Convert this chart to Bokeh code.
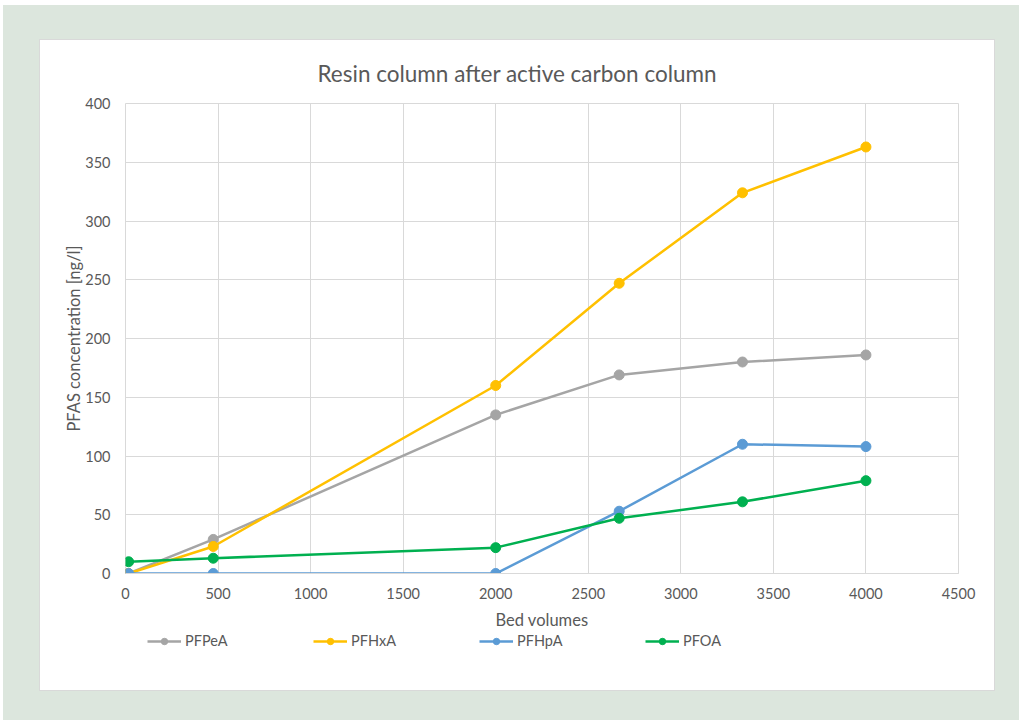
from bokeh.plotting import figure
from bokeh.models import Legend, LegendItem, Range1d, FixedTicker
from bokeh.layouts import column
from bokeh.embed import file_html
from bokeh.resources import INLINE

# ---- data ----
bed_volumes = [17, 474, 2000, 2667, 3333, 4000]
pfpea = [0, 29, 135, 169, 180, 186]
pfhxa = [0, 23, 160, 247, 324, 363]
pfhpa = [0, 0, 0, 53, 110, 108]
pfoa = [10, 13, 22, 47, 61, 79]
series_names = ["PFPeA", "PFHxA", "PFHpA", "PFOA"]
x_ticks = [0, 500, 1000, 1500, 2000, 2500, 3000, 3500, 4000, 4500]
y_ticks = [0, 50, 100, 150, 200, 250, 300, 350, 400]

colors = ["#a5a5a5", "#ffc000", "#5b9bd5", "#00b050"]
FONT = "Lato"
TXT = "#595959"
GRID = "#d9d9d9"

p = figure(width=954, height=592, output_backend="svg", toolbar_location=None,
           x_range=Range1d(0, 4500), y_range=Range1d(0, 400),
           min_border_left=85, min_border_right=36, min_border_top=63,
           min_border_bottom=57, background_fill_color="white",
           border_fill_color="white")

p.title.text = "Resin column after active carbon column"
p.title.align = "left"
p.title.offset = 192
p.title.text_font = FONT
p.title.text_font_size = "22.5px"
p.title.text_font_style = "normal"
p.title.text_color = TXT
p.title.standoff = 34

p.outline_line_color = GRID
p.xgrid.ticker = FixedTicker(ticks=x_ticks)
p.ygrid.ticker = FixedTicker(ticks=y_ticks)
p.xgrid.grid_line_color = GRID
p.ygrid.grid_line_color = GRID

p.xaxis.ticker = FixedTicker(ticks=x_ticks)
p.yaxis.ticker = FixedTicker(ticks=y_ticks)
for ax in (p.xaxis[0], p.yaxis[0]):
    ax.major_tick_line_color = None
    ax.minor_tick_line_color = None
    ax.major_label_text_font = FONT
    ax.major_label_text_font_size = "14.5px"
    ax.major_label_text_color = TXT
    ax.axis_label_text_font = FONT
    ax.axis_label_text_font_size = "16.5px"
    ax.axis_label_text_font_style = "normal"
    ax.axis_label_text_color = TXT
p.xaxis.axis_line_color = GRID
p.yaxis.axis_line_color = None
p.xaxis.major_label_standoff = 8
p.yaxis.major_label_standoff = 9
p.xaxis.axis_label = "Bed volumes"
p.yaxis.axis_label = "PFAS concentration [ng/l]"
p.xaxis.axis_label_standoff = 8
p.yaxis.axis_label_standoff = -2

series = [pfpea, pfhxa, pfhpa, pfoa]
for ys, c in zip(series, colors):
    p.line(bed_volumes, ys, line_color=c, line_width=2.5)
    p.scatter(bed_volumes, ys, size=10, fill_color=c, line_color=c)

# legend strip (separate figure so the legend sits below the axis title)
p2 = figure(width=954, height=58, output_backend="svg", toolbar_location=None,
            x_range=Range1d(0, 1), y_range=Range1d(0, 1),
            min_border=0, background_fill_color="white",
            border_fill_color="white", outline_line_color=None)
p2.axis.visible = False
p2.grid.visible = False
items = []
for name, ys, c in zip(series_names, series, colors):
    lr = p2.line(bed_volumes, ys, line_color=c, line_width=2.5)
    sr = p2.scatter(bed_volumes, ys, size=10, fill_color=c, line_color=c)
    items.append(LegendItem(label=name, renderers=[lr, sr]))

legend = Legend(items=items, orientation="horizontal", location=(22, 41),
                glyph_width=34, glyph_height=16, label_standoff=4,
                label_width=110, spacing=18, border_line_color=None,
                background_fill_alpha=0, label_text_font=FONT,
                label_text_font_size="14.5px", label_text_color=TXT,
                padding=0, margin=0)
p2.add_layout(legend)

panel = column(p, p2, spacing=0,
               styles={"background-color": "white",
                       "outline": "1px solid #d9d9d9"})
layout = column(panel, styles={"background-color": "#dce6dd",
                               "margin": "5px 0px 0px 3px",
                               "padding": "35px 25px 30px 37px"})

open("out.html", "w").write(file_html(layout, INLINE))
